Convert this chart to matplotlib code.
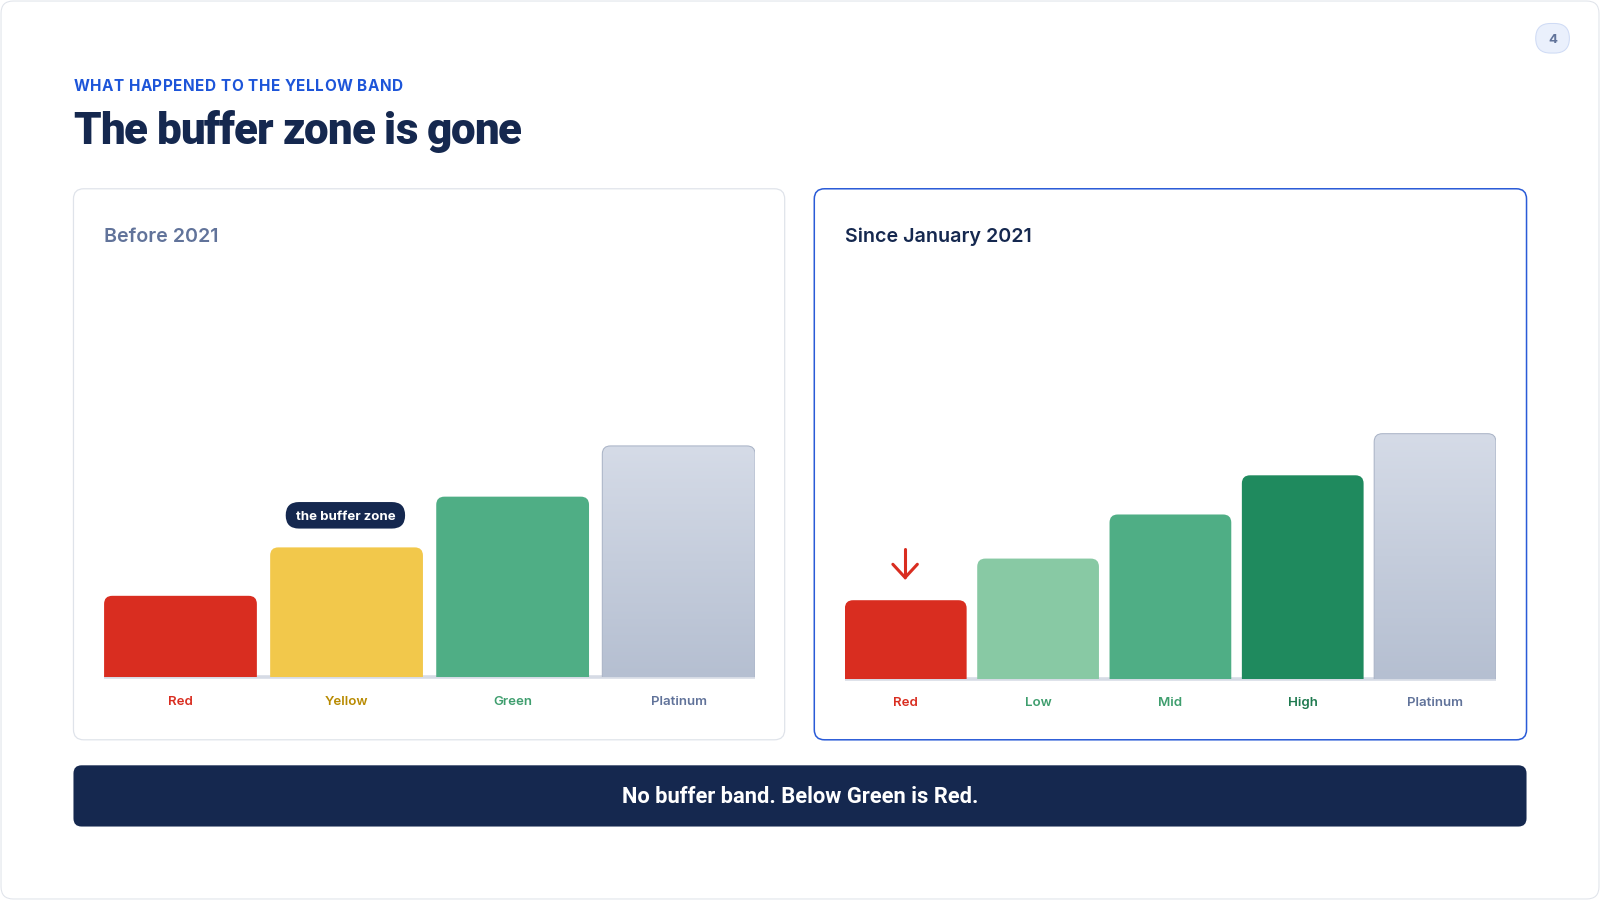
import numpy as np
import matplotlib
matplotlib.use('Agg')
import matplotlib.pyplot as plt
from matplotlib.patches import FancyBboxPatch
from matplotlib.colors import LinearSegmentedColormap
from matplotlib import font_manager as fm
from matplotlib.ft2font import FT2Font

# ---------------- data ----------------
eyebrow = "WHAT HAPPENED TO THE YELLOW BAND"
title = "The buffer zone is gone"
left_title = "Before 2021"
right_title = "Since January 2021"
left_cats = ["Red", "Yellow", "Green", "Platinum"]
left_vals = [35, 56, 78, 100]
right_cats = ["Red", "Low", "Mid", "High", "Platinum"]
right_vals = [32, 49, 67, 83, 100]
pill_text = "the buffer zone"
banner_text = "No buffer band. Below Green is Red."
page_no = "4"

left_bar_colors = ['#d92d20', '#f2c84b', '#4fae85', None]
left_label_colors = ['#d92d20', '#b88a00', '#3f9e6e', '#61739a']
right_bar_colors = ['#d92d20', '#88c9a4', '#4fae85', '#1f8a5e', None]
right_label_colors = ['#d92d20', '#3f9e6e', '#3f9e6e', '#1f7a50', '#61739a']

NAVY = '#15284f'
W, H = 1568, 882            # design grid (scaled to 1600x900)
PT = 1600 / W * 0.72         # points per design px

fig = plt.figure(figsize=(16, 9), dpi=100)
fig.patch.set_facecolor('white')
bg = fig.add_axes([0, 0, 1, 1])
bg.set_xlim(0, W)
bg.set_ylim(H, 0)
bg.axis('off')


def fr(x0, y0, x1, y1):
    return [x0 / W, 1 - y1 / H, (x1 - x0) / W, (y1 - y0) / H]


def rbox(ax, x, y, w, h, r, fc, ec='none', lw=0.0, z=1):
    p = FancyBboxPatch((x, y), w, h, boxstyle=f"round,pad=0,rounding_size={r}",
                       fc=fc, ec=ec, lw=lw, zorder=z)
    ax.add_patch(p)
    return p


# outer frame
rbox(bg, 1, 1, W - 2, H - 2, 12, 'white', '#dfe3ea', 1.0 * PT, 0)

# page number pill
rbox(bg, 1505, 23, 33, 29, 14.5, '#eaf0fc', '#cfdbf5', 1.0 * PT, 2)
bg.text(1521.5, 42.5, page_no, ha='center', va='baseline', color='#61739a',
        fontsize=13 * PT, fontweight='bold', family=['Inter', 'DejaVu Sans'])


# text with letter spacing
def tracked(x0, y, s, size_px, color, family, weight, track):
    prop = fm.FontProperties(family=family, weight=weight)
    path = fm.findfont(prop)
    f = FT2Font(path)
    f.set_size(size_px, 72)
    x = x0
    for ch in s:
        bg.text(x, y, ch, ha='left', va='baseline', color=color,
                fontsize=size_px * PT, fontproperties=prop)
        try:
            g = f.load_char(ord(ch))
            adv = g.linearHoriAdvance / 65536.0
        except Exception:
            adv = size_px * 0.6
        x += adv + track


tracked(72, 89, eyebrow, 15, '#1d55d9', 'Inter', 'bold', 0.5)
tracked(72, 141, title, 43, NAVY, 'Roboto', 'heavy', -1.0)

# cards
rbox(bg, 72, 185, 697, 540, 10, 'white', '#dfe3ea', 1.2 * PT, 1)
rbox(bg, 798, 185, 698, 540, 10, 'white', '#2a5bd7', 1.5 * PT, 1)
bg.text(102, 237, left_title, ha='left', va='baseline', color='#61739a',
        fontsize=19.3 * PT, fontweight='semibold', family=['Inter', 'DejaVu Sans'])
bg.text(828, 237, right_title, ha='left', va='baseline', color=NAVY,
        fontsize=19.3 * PT, fontweight='semibold', family=['Inter', 'DejaVu Sans'])

# banner
rbox(bg, 72, 750, 1424, 60, 8, NAVY, z=1)
bg.text(784, 787, banner_text, ha='center', va='baseline', color='white',
        fontsize=21.5 * PT, fontweight='bold', family=['Roboto', 'DejaVu Sans'])

plat_cmap = LinearSegmentedColormap.from_list('plat', ['#d5dbe7', '#b5bfd1'])


def chart(box, cats, vals, colors, lcolors, ymax, label_base):
    ax = fig.add_axes(fr(*box))
    ax.set_facecolor('none')
    ax.axis('off')
    n = len(cats)
    w = 0.92
    x = np.arange(n)
    bars = ax.bar(x, vals, width=w, alpha=0)
    xl = (-w / 2, n - 1 + w / 2)
    ax.set_xlim(*xl)
    ax.set_ylim(0, ymax)
    p0 = ax.transData.transform((0, 0))
    p1 = ax.transData.transform((1, 1))
    Px, Py = p1[0] - p0[0], p1[1] - p0[1]
    rpx = 8 * 1600 / W
    rx = rpx / Px
    asp = Px / Py
    ry = rx * asp
    ax.plot(xl, [0, 0], color='#d6dbe5', lw=3.5 * PT, clip_on=False, zorder=1,
            solid_capstyle='butt')
    for b, c in zip(bars, colors):
        bx, bw, bh = b.get_x(), b.get_width(), b.get_height()
        if c is not None:
            p = FancyBboxPatch((bx, -ry), bw, bh + ry,
                               boxstyle=f"round,pad=0,rounding_size={rx}",
                               mutation_aspect=asp, fc=c, ec='none', zorder=2)
            ax.add_patch(p)
        else:
            p = FancyBboxPatch((bx, -ry), bw, bh + ry,
                               boxstyle=f"round,pad=0,rounding_size={rx}",
                               mutation_aspect=asp, fc='none', ec='#a9b3c6',
                               lw=1.0 * PT, zorder=3)
            ax.add_patch(p)
            img = ax.imshow(np.linspace(0, 1, 256).reshape(-1, 1), cmap=plat_cmap,
                            extent=[bx, bx + bw, 0, bh], aspect='auto', zorder=2)
            img.set_clip_path(p)
    ax.set_xlim(*xl)
    ax.set_ylim(0, ymax)
    for i, (cat, lc) in enumerate(zip(cats, lcolors)):
        ax.annotate(cat, xy=(i, 0), xytext=(0, -label_base * PT),
                    textcoords='offset points', ha='center', va='baseline',
                    color=lc, fontsize=13 * PT, fontweight='semibold',
                    family=['Inter', 'DejaVu Sans'], annotation_clip=False)
    return ax, bars


axL, barsL = chart((102, 263, 740, 663), left_cats, left_vals, left_bar_colors,
                   left_label_colors, 400 / 2.26, 28)
axR, barsR = chart((828, 265, 1466, 665), right_cats, right_vals, right_bar_colors,
                   right_label_colors, 400 / 2.4, 27)

# buffer zone pill
rbox(bg, 280, 492, 117, 26, 13, NAVY, z=5)
bg.text(338.5, 509.5, pill_text, ha='center', va='baseline', color='white',
        fontsize=13 * PT, fontweight='bold', family=['Inter', 'DejaVu Sans'], zorder=6)

# red arrow above Red bar (right)
RED = '#d92d20'
bg.plot([887, 887], [538, 565], color=RED, lw=3 * PT, solid_capstyle='round', zorder=5)
bg.plot([875, 887, 899], [553, 566, 553], color=RED, lw=3 * PT,
        solid_joinstyle='miter', solid_capstyle='round', zorder=5)

fig.savefig('out.png', dpi=100, facecolor='white')
